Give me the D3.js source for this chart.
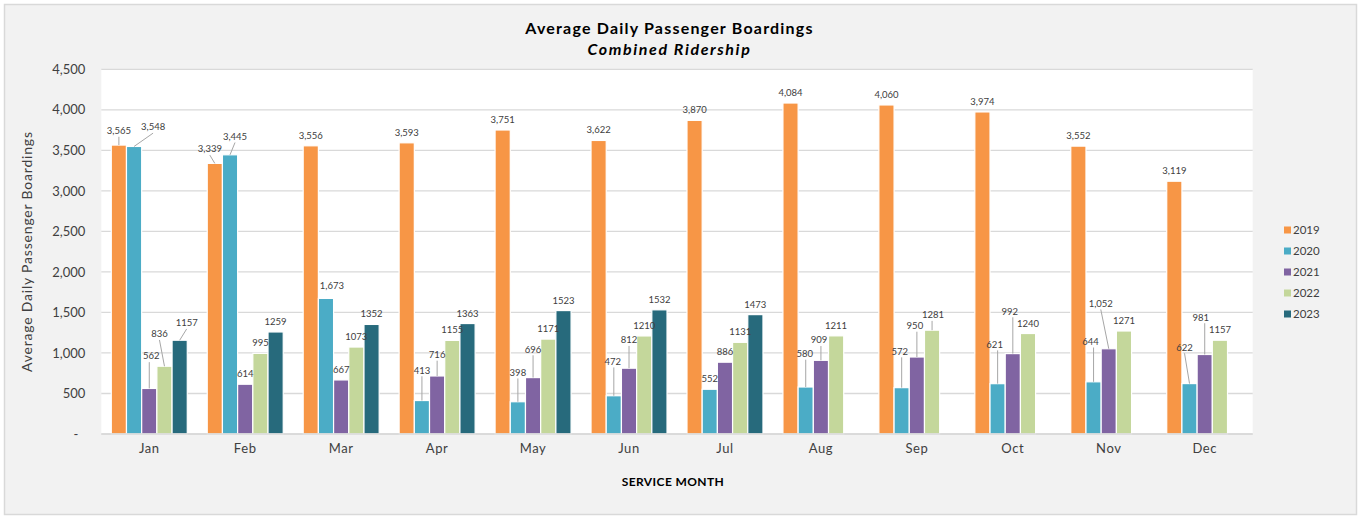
<!DOCTYPE html>
<html>
<head>
<meta charset="utf-8">
<script src="https://cdn.jsdelivr.net/npm/d3@7"></script>
<style>
    body { margin: 0; background: #ffffff; }
    text { font-family: "Century Gothic", Lato, "DejaVu Sans", sans-serif; }
</style>
</head>
<body>
<script>
// Average Daily Passenger Boardings - combined ridership by service month

// Data
var months = ["Jan", "Feb", "Mar", "Apr", "May", "Jun", "Jul", "Aug", "Sep", "Oct", "Nov", "Dec"];
var years = ["2019", "2020", "2021", "2022", "2023"];
var boardings2019 = [3565, 3339, 3556, 3593, 3751, 3622, 3870, 4084, 4060, 3974, 3552, 3119];
var boardings2020 = [3548, 3445, 1673, 413, 398, 472, 552, 580, 572, 621, 644, 622];
var boardings2021 = [562, 614, 667, 716, 696, 812, 886, 909, 950, 992, 1052, 981];
var boardings2022 = [836, 995, 1073, 1155, 1171, 1210, 1131, 1211, 1281, 1240, 1271, 1157];
var boardings2023 = [1157, 1259, 1352, 1363, 1523, 1532, 1473, null, null, null, null, null];
var yTicks = [0, 500, 1000, 1500, 2000, 2500, 3000, 3500, 4000, 4500];

var seriesValues = [boardings2019, boardings2020, boardings2021, boardings2022, boardings2023];

// styling
var colors = ["#f79646", "#4bacc6", "#8064a2", "#c4d79b", "#276a7c"];
// 2019-2021 labels carry thousands separators, 2022-2023 do not
var labelFormats = [d3.format(","), d3.format(","), d3.format(","), d3.format("d"), d3.format("d")];

// labels that were dragged off their default spot (pixels), drawn with a leader line
var labelNudges = [
    { year: "2019", month: "Jan", dx: 0, dy: -4 },
    { year: "2019", month: "Feb", dx: -5, dy: -4 },
    { year: "2020", month: "Jan", dx: 19, dy: -9 },
    { year: "2020", month: "Feb", dx: 5, dy: -8 },
    { year: "2020", month: "Mar", dx: 6, dy: -2 },
    { year: "2020", month: "Apr", dx: 0, dy: -20 },
    { year: "2020", month: "May", dx: 0, dy: -19 },
    { year: "2020", month: "Jun", dx: -1, dy: -24 },
    { year: "2020", month: "Aug", dx: -1, dy: -23 },
    { year: "2020", month: "Sep", dx: -2, dy: -26 },
    { year: "2020", month: "Oct", dx: -3, dy: -29 },
    { year: "2020", month: "Nov", dx: -3, dy: -30 },
    { year: "2020", month: "Dec", dx: -5, dy: -26 },
    { year: "2021", month: "Jan", dx: 2, dy: -22 },
    { year: "2021", month: "Apr", dx: 0, dy: -11 },
    { year: "2021", month: "May", dx: 0, dy: -18 },
    { year: "2021", month: "Jun", dx: 0, dy: -18 },
    { year: "2021", month: "Aug", dx: -2, dy: -10 },
    { year: "2021", month: "Sep", dx: -2, dy: -21 },
    { year: "2021", month: "Oct", dx: -3, dy: -32 },
    { year: "2021", month: "Nov", dx: -8, dy: -35 },
    { year: "2021", month: "Dec", dx: -4, dy: -27 },
    { year: "2022", month: "Jan", dx: -5, dy: -22 },
    { year: "2022", month: "Sep", dx: 1, dy: -5 },
    { year: "2023", month: "Jan", dx: 7, dy: -7 }
];

var width = 1359;
var height = 516;
var plot = { left: 101.3, right: 1252.7, top: 69.3, bottom: 434 };
var textColor = "#404040";

var svg = d3.select("body").append("svg")
    .attr("width", width)
    .attr("height", height);

// chart area
svg.append("rect")
    .attr("x", 4.5)
    .attr("y", 4.5)
    .attr("width", 1352)
    .attr("height", 510)
    .attr("fill", "#f2f2f2")
    .attr("stroke", "#d9d9d9")
    .attr("stroke-width", 1.5);

// plot area
svg.append("rect")
    .attr("x", plot.left)
    .attr("y", plot.top)
    .attr("width", plot.right - plot.left)
    .attr("height", plot.bottom - plot.top)
    .attr("fill", "#ffffff");

// Scales
var x0 = d3.scaleBand()
    .domain(months)
    .range([plot.left, plot.right])
    .paddingInner(0.208)
    .paddingOuter(0.104);

var x1 = d3.scaleBand()
    .domain(years)
    .range([0, x0.bandwidth()]);

var y = d3.scaleLinear()
    .domain([0, 4500])
    .range([plot.bottom, plot.top]);

// gridlines
svg.append("g")
    .selectAll("line")
    .data(yTicks)
    .enter().append("line")
    .attr("x1", plot.left)
    .attr("x2", plot.right)
    .attr("y1", function (d) { return y(d); })
    .attr("y2", function (d) { return y(d); })
    .attr("stroke", "#d9d9d9")
    .attr("stroke-width", 1.3);

// y axis labels (accounting style, zero shown as a dash)
var yAxis = d3.axisLeft(y)
    .tickValues(yTicks)
    .tickSize(0)
    .tickPadding(16)
    .tickFormat(function (d) { return d === 0 ? "-" : d3.format(",")(d); });

var yAxisG = svg.append("g")
    .attr("transform", "translate(" + plot.left + ",0)")
    .call(yAxis);
yAxisG.select(".domain").remove();
yAxisG.selectAll("text")
    .attr("fill", textColor)
    .style("font-size", "13px")
    .attr("dx", function (d) { return d === 0 ? -7 : 0; });

// x axis labels
var xAxis = d3.axisBottom(x0)
    .tickSize(0)
    .tickPadding(10);

var xAxisG = svg.append("g")
    .attr("transform", "translate(0," + plot.bottom + ")")
    .call(xAxis);
xAxisG.select(".domain").remove();
xAxisG.selectAll("text")
    .attr("fill", textColor)
    .style("font-size", "13px")
    .style("letter-spacing", "0.6px");

// flatten the series into one list of bars
var bars = [];
years.forEach(function (yr, s) {
    months.forEach(function (m, i) {
        var v = seriesValues[s][i];
        if (v === null) return;
        var nudge = labelNudges.find(function (n) { return n.year === yr && n.month === m; });
        bars.push({
            year: yr, month: m, value: v, series: s,
            dx: nudge ? nudge.dx : 0,
            dy: nudge ? nudge.dy : 0
        });
    });
});

function barCenter(d) {
    return x0(d.month) + x1(d.year) + x1.bandwidth() / 2;
}

// bars
svg.append("g")
    .selectAll("rect")
    .data(bars)
    .enter().append("rect")
    .attr("x", function (d) { return x0(d.month) + x1(d.year); })
    .attr("y", function (d) { return y(d.value); })
    .attr("width", x1.bandwidth())
    .attr("height", function (d) { return y(0) - y(d.value); })
    .attr("fill", function (d) { return colors[d.series]; })
    .attr("stroke", "#ffffff")
    .attr("stroke-width", 1.2);

// axis baseline
svg.append("line")
    .attr("x1", plot.left)
    .attr("x2", plot.right)
    .attr("y1", plot.bottom)
    .attr("y2", plot.bottom)
    .attr("stroke", "#d9d9d9")
    .attr("stroke-width", 1.3);

// leader lines for moved labels
svg.append("g")
    .selectAll("line")
    .data(bars.filter(function (d) { return d.dy <= -4; }))
    .enter().append("line")
    .attr("x1", function (d) { return barCenter(d); })
    .attr("y1", function (d) { return y(d.value); })
    .attr("x2", function (d) { return Math.abs(d.dx) < 5 ? barCenter(d) : barCenter(d) + d.dx; })
    .attr("y2", function (d) { return y(d.value) - 10.3 + d.dy + 6; })
    .attr("stroke", "#a6a6a6")
    .attr("stroke-width", 1);

// data labels
svg.append("g")
    .selectAll("text")
    .data(bars)
    .enter().append("text")
    .attr("x", function (d) { return barCenter(d) + d.dx; })
    .attr("y", function (d) { return y(d.value) - 10.3 + d.dy; })
    .attr("dy", "0.35em")
    .attr("text-anchor", "middle")
    .attr("fill", textColor)
    .style("font-size", "9.5px")
    .text(function (d) { return labelFormats[d.series](d.value); });

// titles
svg.append("text")
    .attr("x", 669.5)
    .attr("y", 28)
    .attr("dy", "0.35em")
    .attr("text-anchor", "middle")
    .attr("fill", "#000000")
    .style("font-size", "16px")
    .style("font-weight", "bold")
    .style("letter-spacing", "1.2px")
    .text("Average Daily Passenger Boardings");

svg.append("text")
    .attr("x", 669.5)
    .attr("y", 49)
    .attr("dy", "0.35em")
    .attr("text-anchor", "middle")
    .attr("fill", "#000000")
    .style("font-size", "16px")
    .style("font-weight", "bold")
    .style("font-style", "italic")
    .style("letter-spacing", "1.6px")
    .text("Combined Ridership");

svg.append("text")
    .attr("transform", "translate(27," + ((plot.top + plot.bottom) / 2) + ") rotate(-90)")
    .attr("dy", "0.35em")
    .attr("text-anchor", "middle")
    .attr("fill", textColor)
    .style("font-size", "14px")
    .style("letter-spacing", "0.8px")
    .text("Average Daily Passenger Boardings");

svg.append("text")
    .attr("x", 673)
    .attr("y", 482)
    .attr("dy", "0.35em")
    .attr("text-anchor", "middle")
    .attr("fill", "#000000")
    .style("font-size", "12px")
    .style("font-weight", "bold")
    .style("letter-spacing", "0.4px")
    .text("SERVICE MONTH");

// legend
var legend = svg.append("g")
    .selectAll("g")
    .data(years)
    .enter().append("g")
    .attr("transform", function (d, i) { return "translate(1284," + (230 + i * 21) + ")"; });

legend.append("rect")
    .attr("x", 0)
    .attr("y", -3.5)
    .attr("width", 7)
    .attr("height", 7)
    .attr("fill", function (d, i) { return colors[i]; });

legend.append("text")
    .attr("x", 9)
    .attr("dy", "0.35em")
    .attr("fill", textColor)
    .style("font-size", "11.5px")
    .text(function (d) { return d; });
</script>
</body>
</html>
